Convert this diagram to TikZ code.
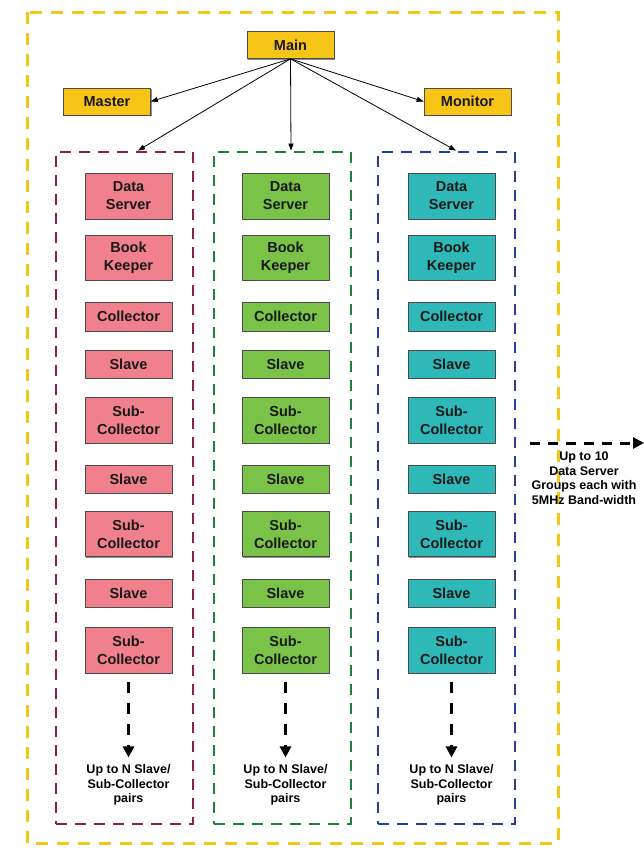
\documentclass[tikz,border=0pt]{standalone}
\usepackage{fontspec}
\setmainfont{Liberation Sans}
\usetikzlibrary{arrows.meta,shadows}
\definecolor{ctrlyellow}{RGB}{247,196,24}
\definecolor{frameyellow}{RGB}{240,200,20}
\definecolor{boxpink}{RGB}{240,128,140}
\definecolor{boxgreen}{RGB}{122,194,72}
\definecolor{boxteal}{RGB}{46,184,184}
\definecolor{edgepink}{RGB}{140,30,80}
\definecolor{edgegreen}{RGB}{30,130,60}
\definecolor{edgeblue}{RGB}{40,60,160}
\tikzset{
  unit/.style={draw=black!70,line width=0.7pt,minimum width=87pt,inner sep=0pt,align=center,
    text=black!90,font=\fontsize{14.5}{18}\selectfont\bfseries,
    drop shadow={shadow xshift=1pt,shadow yshift=-1pt,opacity=0.45,fill=black}},
  ctrl/.style={unit,fill=ctrlyellow,minimum height=27pt},
  grp/.style={draw=#1,line width=2.8pt,dash pattern=on 11pt off 8pt,minimum width=137pt,minimum height=672pt},
  frame/.style={draw=frameyellow,line width=3pt,dash pattern=on 12pt off 9pt},
  link/.style={line width=0.8pt,-{Triangle[length=7pt,width=5pt]}},
  more/.style={line width=3.5pt,dash pattern=on 11pt off 10pt,-{Triangle[length=11pt,width=11pt]}},
  note/.style={align=center,inner sep=1pt,font=\fontsize{12.5}{14.5}\selectfont\bfseries}
}

\begin{document}
\begin{tikzpicture}[x=1pt,y=-1pt]
\useasboundingbox[fill=white] (0,0) rectangle (644,854);
\draw[frame] (27,12) rectangle (558,843);
% control processes
\node[ctrl] (main) at (290.5,45) {Main};
\node[ctrl] (master) at (107,101.5) {Master};
\node[ctrl] (monitor) at (467.5,101.5) {Monitor};
% data server groups
\foreach \c/\x/\gx/\f/\d in {L/128.5/124.5/boxpink/edgepink,M/285.5/282.5/boxgreen/edgegreen,R/451.5/446.5/boxteal/edgeblue}{
  \node[grp=\d] (col\c) at (\gx,488) {};
  \foreach \txt/\y/\h [count=\j] in {{Data\\Server}/196/46,{Book\\Keeper}/257.5/45,Collector/316.5/29,
      Slave/364/28,{Sub-\\Collector}/420/46,Slave/479/28,{Sub-\\Collector}/534/45,Slave/593/28,{Sub-\\Collector}/650/46}
    \node[unit,fill=\f,minimum height=\h pt] (\c\j) at (\x,\y) {\txt};
  \node[note] (more\c) at (\x,785) {Up to N Slave/\\Sub-Collector\\pairs};
  \draw[more,shorten <=9pt,shorten >=6pt] (\c9.south) -- (more\c.north);
}
\draw[link] (main.south) -- (master.east);
\draw[link] (main.south) -- (monitor.west);
\draw[link] (main.south) -- ([xshift=13.5pt]colL.north);
\draw[link] (main.south) -- ([xshift=8.5pt]colM.north);
\draw[link] (main.south) -- ([xshift=9.5pt]colR.north);
% further groups
\coordinate (grpfrom) at (530,443);
\coordinate (grpto) at (644,443);
\draw[more,line width=3pt,dash pattern=on 10pt off 8pt] (grpfrom) -- (grpto);
\node[note] (groups) at (584,478) {Up to 10\\Data Server\\Groups each with\\5MHz Band-width};
\end{tikzpicture}
\end{document}
